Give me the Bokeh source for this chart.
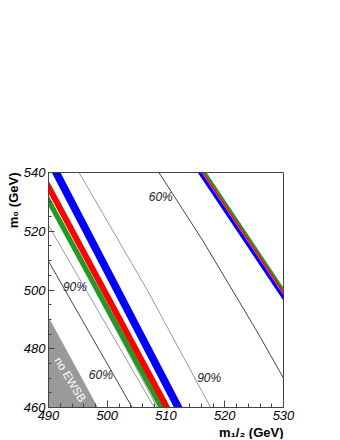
import numpy as np
from bokeh.plotting import figure
from bokeh.models import Range1d, FixedTicker, Title
from bokeh.core.properties import value
from bokeh.embed import file_html
from bokeh.resources import INLINE

# ---------------- data ----------------
x_ticks = [490, 500, 510, 520, 530]
y_ticks = [460, 480, 500, 520, 540]
x_minor = [492, 494, 496, 498, 502, 504, 506, 508, 512, 514, 516, 518, 522, 524, 526, 528]
y_minor = [465, 470, 475, 485, 490, 495, 505, 510, 515, 525, 530, 535]

x_title = "m₁/₂ (GeV)"
y_title = "m₀ (GeV)"

# coloured bands (centre lines, m1/2 vs m0)
blue_l_m0 = [540.0, 460.0]
blue_l_m12 = [491.3, 512.1]
red_l_m0 = [540.0, 460.0]
red_l_m12 = [488.7, 510.16]
green_l_m0 = [540.0, 460.0]
green_l_m12 = [487.4, 509.2]

blue_r_m0 = [540.0, 490.0]
blue_r_m12 = [515.73, 532.46]
red_r_m0 = [540.0, 490.0]
red_r_m12 = [516.28, 533.04]
green_r_m0 = [540.0, 490.0]
green_r_m12 = [516.67, 533.36]

# contour lines
c60_up_m12 = [508.8, 516.2, 525.4, 530.0]
c60_up_m0 = [540.0, 517.0, 486.2, 470.0]
c90_mid_m12 = [495.2, 507.0, 517.6]
c90_mid_m0 = [540.0, 499.3, 460.0]
dark_left_m12 = [490.0, 504.25]
dark_left_m0 = [509.8, 460.0]
grey1_m12 = [490.0, 508.0]
grey1_m0 = [522.0, 460.0]
grey2_m12 = [490.0, 508.5]
grey2_m0 = [530.0, 460.0]

# no EWSB region
noewsb_m12 = [490.0, 490.0, 498.4]
noewsb_m0 = [490.8, 460.0, 460.0]

# contour labels
lab_text = ["60%", "90%", "60%", "90%"]
lab_m12 = [509.1, 494.5, 498.9, 517.35]
lab_m0 = [531.6, 500.9, 470.9, 470.2]

# ---------------- figure ----------------
FONT = "Liberation Sans"
p = figure(frame_width=235, frame_height=235, x_range=Range1d(490, 530), y_range=Range1d(460, 540),
           output_backend="svg", toolbar_location=None,
           min_border_left=48, min_border_right=20, min_border_top=172, min_border_bottom=0)
p.xgrid.visible = False
p.ygrid.visible = False
p.outline_line_color = "#444444"
p.outline_line_width = 1
p.background_fill_color = "white"
p.border_fill_color = "white"

p.xaxis.ticker = FixedTicker(ticks=x_ticks, minor_ticks=x_minor)
p.yaxis.ticker = FixedTicker(ticks=y_ticks, minor_ticks=y_minor)
for ax in (p.xaxis[0], p.yaxis[0]):
    ax.major_label_text_font = FONT
    ax.major_label_text_font_style = "italic"
    ax.major_label_text_font_size = "13px"
    ax.major_label_text_color = "black"
    ax.axis_line_color = "#444444"
    ax.major_tick_line_color = "#444444"
    ax.minor_tick_line_color = "#444444"
    ax.major_tick_out = 0
    ax.minor_tick_out = 0
    ax.major_label_standoff = 3
p.xaxis.major_tick_in = 7
p.xaxis.minor_tick_in = 4
p.yaxis.major_tick_in = 6
p.yaxis.minor_tick_in = 3

# axis titles as side-panel titles aligned to the axis end
p.add_layout(Title(text=x_title, align="right", text_font=FONT, text_font_style="bold",
                   text_font_size="13px", text_color="black", standoff=0), "below")
p.add_layout(Title(text=y_title, align="right", text_font=FONT, text_font_style="bold",
                   text_font_size="13px", text_color="black", standoff=0), "left")

# no EWSB region
p.patch(noewsb_m12, noewsb_m0, fill_color="#9a9a9a", line_color=None)

# contour lines
p.line(c90_mid_m12, c90_mid_m0, line_color="#9a9a9a", line_width=1)
p.line(grey1_m12, grey1_m0, line_color="#9a9a9a", line_width=1)
p.line(grey2_m12, grey2_m0, line_color="#9a9a9a", line_width=1)
p.line(c60_up_m12, c60_up_m0, line_color="#444444", line_width=1)
p.line(dark_left_m12, dark_left_m0, line_color="#444444", line_width=1)

# bands
def band(m12, m0, hw, color):
    c = np.array(m12)
    p.harea(x1=c - hw, x2=c + hw, y=np.array(m0), fill_color=color)

band(green_l_m12, green_l_m0, 0.50, "#229922")
band(red_l_m12, red_l_m0, 0.58, "#ff0000")
band(blue_l_m12, blue_l_m0, 0.74, "#0000ff")
band(green_r_m12, green_r_m0, 0.24, "#229922")
band(red_r_m12, red_r_m0, 0.17, "#ff0000")
band(blue_r_m12, blue_r_m0, 0.34, "#0000ff")

# labels
p.text(x=lab_m12, y=lab_m0, text=lab_text, text_font=value(FONT), text_font_style="italic",
       text_font_size="12px", text_align="center", text_baseline="middle", text_color="#222222")
p.text(x=[493.7], y=[469.5], text=["no EWSB"], text_font=value(FONT), text_font_size="11.5px",
       text_align="center", text_baseline="middle", text_color="white", angle=-1.03)

open("out.html", "w").write(file_html(p, INLINE))
